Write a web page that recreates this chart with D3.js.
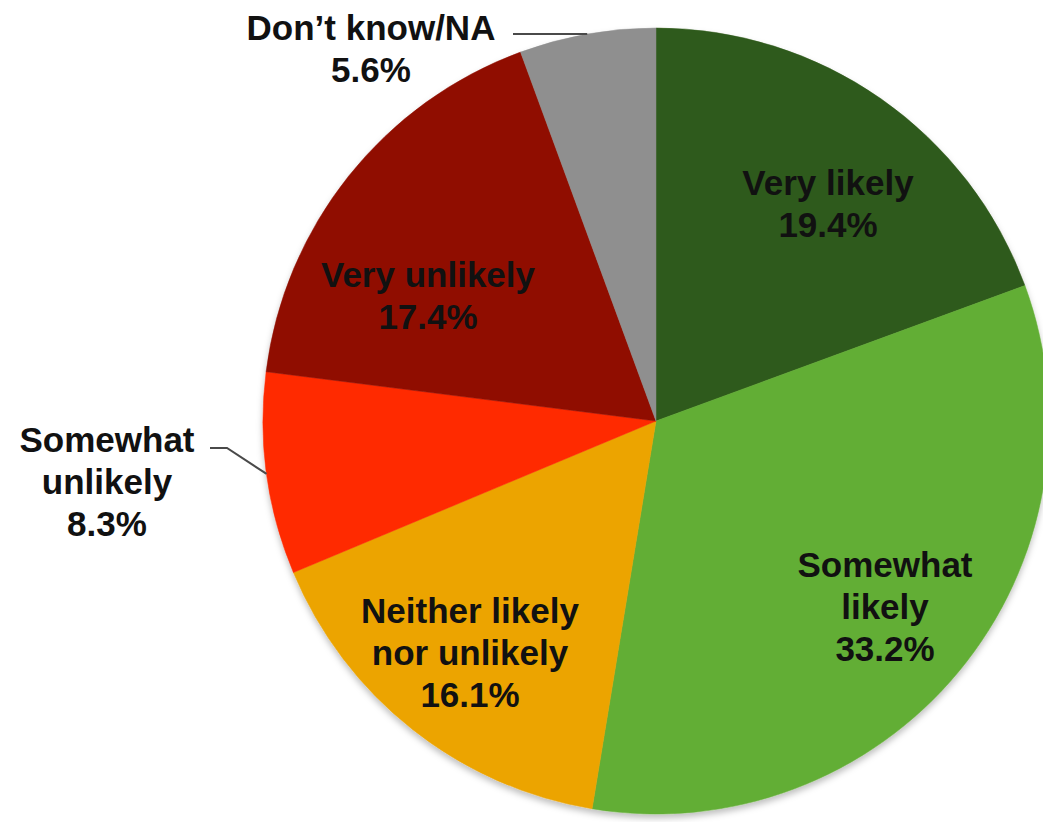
<!DOCTYPE html>
<html>
<head>
<meta charset="utf-8">
<script src="https://cdn.jsdelivr.net/npm/d3@7"></script>
<style>
  body { margin: 0; background: #fff; }
  text { font-family: "Liberation Sans", Arial, Helvetica, sans-serif; font-weight: bold; }
</style>
</head>
<body>
<div id="main"></div>
<script>
const categories = ["Very likely", "Somewhat likely", "Neither likely nor unlikely", "Somewhat unlikely", "Very unlikely", "Don\u2019t know/NA"];
const values = [19.4, 33.2, 16.1, 8.3, 17.4, 5.6];
const labelLines = [
  ["Very likely", "19.4%"],
  ["Somewhat", "likely", "33.2%"],
  ["Neither likely", "nor unlikely", "16.1%"],
  ["Somewhat", "unlikely", "8.3%"],
  ["Very unlikely", "17.4%"],
  ["Don\u2019t know/NA", "5.6%"]
];
const colors = ["#2f5a1b", "#62ae35", "#eca400", "#ff2a00", "#901000", "#8f8f8f"];

const width = 1043;
const height = 822;
const cx = 656, cy = 421, radius = 393;
const fontSize = 35, lineGap = 42;

// label anchors (x centre, first baseline) and leader elbow for outside labels
const labelPos = [
  { x: 828, y: 195 },
  { x: 885, y: 577 },
  { x: 470, y: 623 },
  { x: 107, y: 452, elbow: [227, 448], end: 210 },
  { x: 428, y: 287 },
  { x: 371, y: 40, elbow: null, end: 513 }
];

const svg = d3.select("#main")
  .append("svg")
  .attr("width", width)
  .attr("height", height);

const defs = svg.append("defs");
const filter = defs.append("filter")
  .attr("id", "shadow")
  .attr("x", "-10%").attr("y", "-10%")
  .attr("width", "120%").attr("height", "120%");
filter.append("feDropShadow")
  .attr("dx", 0).attr("dy", 4)
  .attr("stdDeviation", 3)
  .attr("flood-color", "#000")
  .attr("flood-opacity", 0.25);

const pie = d3.pie().sort(null).value(d => d);
const arcs = pie(values);

const arc = d3.arc().innerRadius(0).outerRadius(radius);

const g = svg.append("g")
  .attr("transform", "translate(" + cx + "," + cy + ")");

g.append("g")
  .attr("filter", "url(#shadow)")
  .selectAll("path")
  .data(arcs)
  .enter()
  .append("path")
  .attr("d", arc)
  .style("fill", (d, i) => colors[i])
  .style("stroke", (d, i) => colors[i])
  .style("stroke-width", 0.5);

// leader lines for the small slices
arcs.forEach((d, i) => {
  const p = labelPos[i];
  if (p.end === undefined) return;
  const mid = (d.startAngle + d.endAngle) / 2;
  const ax = cx + Math.sin(mid) * radius;
  const ay = cy - Math.cos(mid) * radius;
  const pts = [[ax, ay]];
  if (p.elbow) pts.push(p.elbow);
  pts.push([p.end, p.elbow ? p.elbow[1] : ay]);
  svg.append("path")
    .attr("d", d3.line()(pts))
    .style("fill", "none")
    .style("stroke", "#4a4a4a")
    .style("stroke-width", 2);
});

labelLines.forEach((lines, i) => {
  const p = labelPos[i];
  const t = svg.append("text")
    .attr("text-anchor", "middle")
    .style("font-size", fontSize + "px")
    .style("fill", "#111");
  lines.forEach((s, j) => {
    t.append("tspan")
      .attr("x", p.x)
      .attr("y", p.y + j * lineGap)
      .text(s);
  });
});
</script>
</body>
</html>
